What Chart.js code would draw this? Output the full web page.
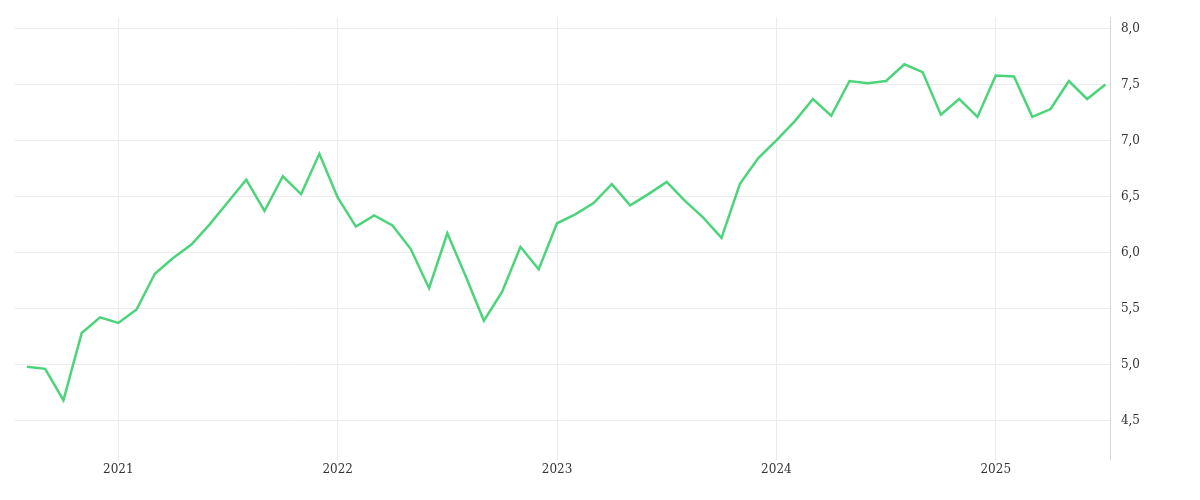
<!DOCTYPE html>
<html>
<head>
<meta charset="utf-8">
<script src="https://cdn.jsdelivr.net/npm/chart.js@4"></script>
<style>
  body { margin: 0; background: #fff; }
  #wrap { width: 1200px; height: 500px; }
</style>
</head>
<body>
<div id="wrap"><canvas id="myChart"></canvas></div>
<script>
// monthly values, Aug 2020 .. Jul 2025
const values = [
  4.98, 4.96, 4.68, 5.28, 5.42,
  5.37, 5.49, 5.81, 5.95, 6.07, 6.25, 6.45, 6.65, 6.37, 6.68, 6.52, 6.88,
  6.49, 6.23, 6.33, 6.24, 6.03, 5.68, 6.17, 5.79, 5.39, 5.65, 6.05, 5.85,
  6.26, 6.34, 6.44, 6.61, 6.42, 6.52, 6.63, 6.46, 6.31, 6.13, 6.61, 6.84,
  7.00, 7.17, 7.37, 7.22, 7.53, 7.51, 7.53, 7.68, 7.61, 7.23, 7.37, 7.21,
  7.58, 7.57, 7.21, 7.28, 7.53, 7.37, 7.50
];
const yearTicks = [5, 17, 29, 41, 53];
const yearLabels = ['2021', '2022', '2023', '2024', '2025'];

const points = values.map((v, i) => ({ x: i, y: v }));

new Chart(document.getElementById('myChart'), {
  type: 'line',
  data: {
    datasets: [{
      data: points,
      borderColor: '#4cd47a',
      borderWidth: 2.5,
      pointRadius: 0,
      tension: 0
    }]
  },
  options: {
    responsive: true,
    maintainAspectRatio: false,
    animation: false,
    layout: { padding: { left: 15, top: 12, right: 50, bottom: 20 } },
    plugins: { legend: { display: false }, tooltip: { enabled: false } },
    scales: {
      x: {
        type: 'linear',
        min: -0.65,
        max: 59.3,
        afterBuildTicks: axis => { axis.ticks = yearTicks.map(v => ({ value: v })); },
        ticks: {
          callback: v => yearLabels[yearTicks.indexOf(v)],
          color: '#333', font: { family: 'DejaVu Serif', size: 12 }, maxRotation: 0
        },
        grid: { color: '#ececec', drawTicks: false },
        border: { display: false }
      },
      y: {
        position: 'right',
        min: 4.15,
        max: 8.1,
        afterBuildTicks: axis => {
          axis.ticks = [4.5, 5, 5.5, 6, 6.5, 7, 7.5, 8].map(v => ({ value: v }));
        },
        ticks: {
          callback: v => v.toFixed(1).replace('.', ','),
          color: '#333', font: { family: 'DejaVu Serif', size: 12 }, padding: 10
        },
        grid: { color: '#ececec', drawTicks: false },
        border: { display: true, color: '#d8d8d8' }
      }
    }
  }
});
</script>
</body>
</html>
